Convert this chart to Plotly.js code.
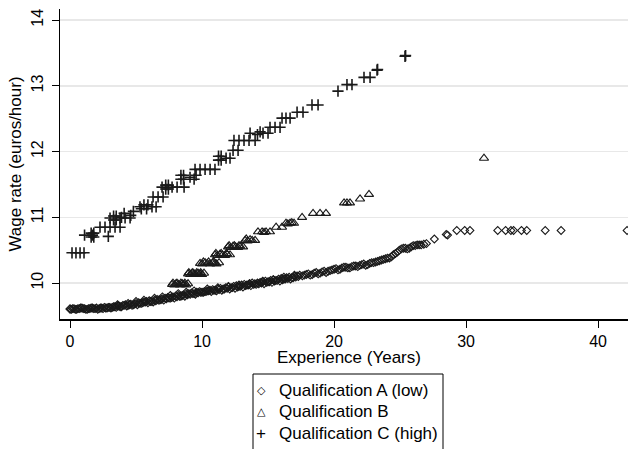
<!DOCTYPE html>
<html>
<head>
<meta charset="utf-8">
<script src="https://cdn.plot.ly/plotly-3.0.1.min.js"></script>
<style>html,body{margin:0;padding:0;background:#fff;}#chart{width:628px;height:449px;}</style>
</head>
<body>
<div id="chart"></div>
<script>
// Qualification A (low)
const aX = [0,0.1,0.3,0.5,0.7,0.9,1.1,1.3,1.5,1.7,1.9,2.1,2.3,2.5,2.7,2.9,
  3.1,3.3,3.5,3.7,3.9,4.1,4.3,4.5,4.7,4.9,5.1,5.3,5.5,5.7,5.9,3.6,4.4,5.0,5.6,
  6.1,6.3,6.5,6.7,6.9,7.1,7.3,7.5,7.7,7.9,8.1,8.3,8.5,8.7,8.9,9.1,9.3,9.5,9.7,9.9,6.4,7.0,7.6,8.2,8.8,9.4,
  10.1,10.3,10.5,10.7,10.9,11.1,11.3,11.5,11.7,11.9,12.1,12.3,12.5,12.7,12.9,13.1,13.3,13.5,13.7,13.9,10.4,11.2,12.0,12.8,13.6,
  14.1,14.3,14.5,14.7,14.9,15.1,15.3,15.5,15.7,15.9,16.1,16.3,16.5,16.7,16.9,17.1,17.3,14.6,15.4,16.2,17.0,
  17.6,17.9,18.2,18.5,18.8,19.1,19.4,19.7,20.0,20.3,20.6,20.9,21.2,21.5,21.8,22.1,22.4,22.7,23.0,23.3,23.6,23.9,24.2,24.5,24.8,25.1,25.4,25.7,26.0,26.3,26.6,27.0,27.6,28.5,28.6,
  29.3,29.9,30.3,32.4,33.0,33.4,33.6,34.2,34.6,36.0,37.2,42.2,
  0.0,0.2,0.4,0.6,0.8,1.0,1.2,1.4,1.6,1.8,2.0,2.2,2.4,2.6,2.8,3.0,
  3.2,3.4,3.6,3.8,4.0,4.2,4.4,4.6,4.8,5.0,5.2,5.4,5.6,5.8,6.0,
  6.2,6.4,6.6,6.8,7.0,7.2,7.4,7.6,7.8,8.0,8.2,8.4,8.6,8.8,9.0,9.2,9.4,9.6,9.8,10.0,
  10.2,10.4,10.6,10.8,11.0,11.2,11.4,11.6,11.8,12.0,12.2,12.4,12.6,12.8,13.0,13.2,13.4,13.6,13.8,14.0,
  14.2,14.4,14.6,14.8,15.0,15.2,15.4,15.6,15.8,16.0,16.2,16.4,16.6,16.8,17.0,17.2,17.4,
  17.75,18.05,18.35,18.65,18.95,19.25,19.55,19.85,20.15,20.45,20.75,21.05,21.35,21.65,21.95,22.25,22.55,22.85,23.15,23.45,23.75,24.05,24.35,24.65,24.95,25.25,25.55,25.85,26.15,26.45,26.8];
const aY = [9.61,9.60,9.61,9.60,9.61,9.62,9.61,9.60,9.61,9.62,9.61,9.60,9.62,9.61,9.62,9.63,
  9.62,9.64,9.63,9.65,9.64,9.66,9.65,9.67,9.66,9.68,9.67,9.69,9.70,9.71,9.70,9.67,9.69,9.72,9.74,
  9.72,9.71,9.73,9.74,9.75,9.74,9.76,9.77,9.78,9.77,9.79,9.80,9.81,9.80,9.82,9.83,9.84,9.83,9.85,9.86,9.77,9.79,9.81,9.84,9.86,9.88,
  9.86,9.87,9.88,9.87,9.89,9.88,9.90,9.89,9.91,9.92,9.91,9.93,9.92,9.94,9.95,9.94,9.96,9.97,9.96,9.98,9.91,9.93,9.95,9.97,9.99,
  9.98,9.99,10.00,9.99,10.01,10.02,10.01,10.03,10.04,10.03,10.05,10.06,10.07,10.06,10.08,10.09,10.10,10.03,10.05,10.09,10.12,
  10.11,10.13,10.12,10.15,10.14,10.17,10.16,10.19,10.21,10.20,10.23,10.24,10.23,10.26,10.25,10.28,10.27,10.30,10.31,10.33,10.35,10.37,10.38,10.43,10.47,10.52,10.53,10.53,10.57,10.58,10.58,10.60,10.67,10.74,10.73,
  10.80,10.80,10.80,10.80,10.80,10.80,10.80,10.80,10.80,10.80,10.80,10.80,
  9.60,9.61,9.60,9.61,9.62,9.61,9.60,9.61,9.62,9.61,9.62,9.61,9.62,9.63,9.62,9.63,
  9.63,9.64,9.65,9.64,9.66,9.67,9.66,9.68,9.67,9.69,9.70,9.69,9.71,9.72,9.73,
  9.72,9.74,9.75,9.74,9.76,9.77,9.78,9.77,9.79,9.80,9.81,9.80,9.82,9.83,9.84,9.85,9.84,9.86,9.87,9.86,
  9.87,9.88,9.89,9.90,9.89,9.91,9.92,9.91,9.93,9.94,9.93,9.95,9.96,9.95,9.97,9.98,9.97,9.99,10.00,9.99,
  10.00,10.01,10.02,10.03,10.02,10.04,10.05,10.04,10.06,10.07,10.06,10.08,10.09,10.08,10.10,10.11,10.12,
  10.12,10.14,10.13,10.16,10.15,10.18,10.18,10.20,10.22,10.21,10.24,10.23,10.25,10.26,10.27,10.29,10.28,10.31,10.32,10.34,10.36,10.38,10.40,10.45,10.50,10.53,10.52,10.55,10.57,10.58,10.59];

// Qualification B
const bX = [7.73,7.9,8.03,8.2,8.33,8.5,8.64,8.8,8.94,7.8,8.1,8.4,8.7,
  8.94,9.1,9.24,9.4,9.55,9.7,9.85,10.0,10.15,9.0,9.3,9.6,9.9,
  9.85,10.0,10.23,10.4,10.61,10.8,10.98,11.1,11.29,10.1,10.5,10.9,
  10.98,11.15,11.36,11.55,11.74,11.9,12.12,11.05,11.45,11.85,
  11.97,12.15,12.35,12.55,12.73,12.9,13.11,12.05,12.45,12.8,
  13.26,13.45,13.64,13.8,14.02,13.35,
  14.24,14.55,14.7,14.85,15.15,
  15.61,16.06,
  16.36,16.5,16.67,16.8,16.97,
  17.58,
  18.41,18.94,19.39,
  20.76,20.98,21.21,
  21.97,22.65,31.36];
const bY = [9.98,9.97,9.99,9.98,9.97,9.99,9.98,9.97,9.99,10.00,10.00,10.00,10.00,
  10.14,10.13,10.15,10.14,10.13,10.15,10.14,10.13,10.15,10.16,10.16,10.16,10.16,
  10.30,10.29,10.31,10.30,10.29,10.31,10.30,10.29,10.31,10.32,10.32,10.32,
  10.43,10.42,10.44,10.43,10.42,10.44,10.43,10.45,10.45,10.45,
  10.55,10.54,10.56,10.55,10.54,10.56,10.55,10.57,10.57,10.57,
  10.65,10.64,10.66,10.65,10.65,10.67,
  10.78,10.78,10.77,10.78,10.78,
  10.85,10.85,
  10.91,10.90,10.91,10.92,10.91,
  11.00,
  11.06,11.06,11.06,
  11.22,11.22,11.22,
  11.28,11.35,11.90];

// Qualification C (high)
const cX = [0.15,0.45,0.76,1.06,
  1.1,1.6,1.8,1.6,1.8,1.7,2.9,
  2.27,2.65,3.03,3.41,3.79,
  3.03,3.3,3.5,3.3,3.5,3.79,4.17,4.55,
  3.9,4.1,4.6,4.8,
  5.30,5.4,5.6,5.8,5.9,6.21,6.52,
  6.29,6.67,7.05,
  6.97,7.25,7.45,7.25,7.45,7.73,8.11,8.64,
  8.4,8.6,8.4,8.6,9.09,9.4,9.55,
  9.47,9.85,10.23,10.61,10.98,
  11.25,11.45,11.25,11.45,11.82,12.12,
  12.35,12.73,
  12.42,12.80,13.18,13.56,14.02,
  13.64,14.2,14.4,14.62,15.0,
  15.15,15.53,15.91,
  16.06,16.36,16.67,
  17.2,17.65,
  18.33,18.79,
  20.3,
  20.98,21.36,
  22.27,22.73,
  23.26,23.3,
  25.38,25.42];
const cY = [10.46,10.46,10.46,10.46,
  10.73,10.70,10.70,10.76,10.76,10.73,10.71,
  10.85,10.85,10.85,10.85,10.85,
  10.99,10.96,10.96,11.02,11.02,10.99,10.99,10.99,
  11.00,11.06,11.03,11.09,
  11.16,11.13,11.19,11.13,11.19,11.16,11.16,
  11.31,11.31,11.31,
  11.46,11.43,11.49,11.49,11.43,11.46,11.46,11.46,
  11.58,11.64,11.64,11.58,11.61,11.58,11.64,
  11.73,11.73,11.73,11.73,11.73,
  11.87,11.93,11.93,11.87,11.90,11.90,
  12.02,12.02,
  12.17,12.17,12.17,12.17,12.17,
  12.28,12.26,12.30,12.28,12.28,
  12.37,12.37,12.37,
  12.51,12.51,12.51,
  12.60,12.60,
  12.71,12.71,
  12.92,
  13.02,13.02,
  13.13,13.13,
  13.24,13.25,
  13.45,13.46];

const seriesNames = ['Qualification A (low)', 'Qualification B', 'Qualification C (high)'];
const legendGlyphs = ['\u25C7', '\u25B3', '+'];
const xTicks = [0, 10, 20, 30, 40];
const yTicks = [10, 11, 12, 13, 14];

const FONT = 'Liberation Sans, Arial, sans-serif';
const INK = '#1a1a1a';

const traces = [
  {x: aX, y: aY, name: seriesNames[0], type: 'scatter', mode: 'markers',
   marker: {symbol: 'diamond-open', size: 6, color: INK, line: {width: 1.1, color: INK}}},
  {x: bX, y: bY, name: seriesNames[1], type: 'scatter', mode: 'markers',
   marker: {symbol: 'triangle-up-open', size: 8, color: INK, line: {width: 1.1, color: INK}}},
  {x: cX, y: cY, name: seriesNames[2], type: 'scatter', mode: 'markers',
   marker: {symbol: 'cross-thin-open', size: 8, color: INK, line: {width: 1.6, color: INK}}}
];

// legend drawn as box + texts (paper coordinates: plot area is 568 x 310 px)
const PW = 568, PH = 310, L = 60, B = 319;
const px2x = p => (p - L) / PW;
const py2y = p => (B - p) / PH;
const rowY = [390, 411.5, 433];
const annotations = [];
seriesNames.forEach((n, i) => {
  annotations.push({xref: 'paper', yref: 'paper', x: px2x(261), y: py2y(rowY[i]), xanchor: 'center', yanchor: 'middle',
    text: legendGlyphs[i], showarrow: false,
    font: {family: i === 2 ? FONT : 'DejaVu Sans, sans-serif', size: i === 2 ? 17 : 11, color: '#000'}});
  annotations.push({xref: 'paper', yref: 'paper', x: px2x(277), y: py2y(rowY[i]), xanchor: 'left', yanchor: 'middle',
    text: n, showarrow: false, font: {family: FONT, size: 17, color: '#000'}});
});
annotations.push({xref: 'paper', yref: 'paper', x: px2x(349), y: py2y(357.5), xanchor: 'center', yanchor: 'middle',
  text: 'Experience (Years)', showarrow: false, borderpad: 0, font: {family: FONT, size: 17, color: '#000'}});

const layout = {
  width: 628, height: 449,
  margin: {l: 60, r: 0, t: 9, b: 130},
  paper_bgcolor: '#fff', plot_bgcolor: '#fff',
  font: {family: FONT, size: 16, color: '#000'},
  showlegend: false,
  xaxis: {range: [-0.76, 42.27], tickvals: xTicks, ticktext: xTicks.map(String),
    ticks: 'outside', ticklen: 7, tickwidth: 1, tickcolor: '#000', ticklabelstandoff: 0,
    showline: true, linecolor: '#000', linewidth: 1.5, showgrid: false, zeroline: false,
    tickfont: {family: FONT, size: 16, color: '#000'}},
  yaxis: {range: [9.453, 14.17], tickvals: yTicks, ticktext: yTicks.map(String),
    ticks: 'outside', ticklen: 7, tickwidth: 1, tickcolor: '#000', tickangle: -90, ticklabelstandoff: 2,
    showline: true, linecolor: '#000', linewidth: 1.5, showgrid: true, gridcolor: '#e8e8e8', gridwidth: 1.5, zeroline: false,
    tickfont: {family: FONT, size: 16, color: '#000'},
    title: {text: 'Wage rate (euros/hour)', font: {family: FONT, size: 17, color: '#000'}, standoff: 3}},
  annotations: annotations,
  shapes: [{type: 'rect', xref: 'paper', yref: 'paper', x0: px2x(253), x1: px2x(443), y0: py2y(470), y1: py2y(374),
    line: {color: '#000', width: 1}, fillcolor: 'rgba(0,0,0,0)'}]
};

Plotly.newPlot('chart', traces, layout, {staticPlot: true, displayModeBar: false});
</script>
</body>
</html>
